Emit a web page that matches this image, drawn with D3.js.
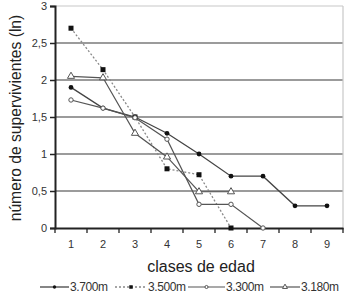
<!DOCTYPE html>
<html><head><meta charset="utf-8">
<script src="https://cdn.jsdelivr.net/npm/d3@7"></script>
<style>body{margin:0;background:#fff}svg{display:block}</style>
</head><body>
<svg id="c" width="350" height="305"></svg>
<script>
const categories = ["1","2","3","4","5","6","7","8","9"];
const yTicks = [0,0.5,1,1.5,2,2.5,3];
const yTickLabels = ["0","0,5","1","1,5","2","2,5","3"];
const seriesNames = ["3.700m","3.500m","3.300m","3.180m"];
const s3700 = [1.9,1.62,1.5,1.28,1.0,0.7,0.7,0.3,0.3];
const s3500 = [2.7,2.14,1.5,0.8,0.72,0.0];
const s3300 = [1.73,1.62,1.49,1.2,0.32,0.32,0.0];
const s3180 = [2.05,2.03,1.28,0.96,0.49,0.49];
const seriesValues = [s3700,s3500,s3300,s3180];
const xTitle = "clases de edad";
const yTitle = "número de supervivientes (ln)";

const svg = d3.select("#c");
const font = "Liberation Sans, Arial, sans-serif";
const x = d3.scaleBand().domain(categories).range([55,343]);
const y = d3.scaleLinear().domain([0,3]).range([228,6]);
const cx = c => x(c) + x.bandwidth()/2;

// grid
svg.append("g").selectAll("line").data(yTicks.filter(v=>v>0 && v<3)).join("line")
  .attr("x1",55).attr("x2",343).attr("y1",d=>y(d)).attr("y2",d=>y(d))
  .attr("stroke","#7a7a7a").attr("stroke-width",1.6);
// frame top/right
svg.append("line").attr("x1",55).attr("x2",343).attr("y1",y(3)).attr("y2",y(3)).attr("stroke","#c8c8c8").attr("stroke-width",1.2);
svg.append("line").attr("x1",343).attr("x2",343).attr("y1",y(3)).attr("y2",y(0)).attr("stroke","#c8c8c8").attr("stroke-width",1.2);

// y axis
const ya = svg.append("g").attr("transform","translate(55,0)")
  .call(d3.axisLeft(y).tickValues(yTicks).tickFormat((d,i)=>yTickLabels[i]).tickSize(5).tickPadding(3));
ya.select(".domain").attr("stroke","#222").attr("stroke-width",2);
ya.selectAll(".tick line").attr("stroke","#222").attr("stroke-width",1.5);
ya.selectAll("text").attr("font-family",font).attr("font-size",11).attr("fill","#333");

// x axis
const xa = svg.append("g").attr("transform",`translate(0,${y(0)})`)
  .call(d3.axisBottom(x).tickSize(0).tickPadding(12));
xa.select(".domain").attr("stroke","#222").attr("stroke-width",2.2);
xa.selectAll("text").attr("font-family",font).attr("font-size",11).attr("fill","#333");
svg.append("g").selectAll("line").data(categories.concat(["end"])).join("line")
  .attr("x1",(d,i)=> i<categories.length ? x(d) : x.range()[1])
  .attr("x2",(d,i)=> i<categories.length ? x(d) : x.range()[1])
  .attr("y1",y(0)).attr("y2",y(0)+5).attr("stroke","#222").attr("stroke-width",1.3);

// titles
svg.append("text").attr("x",201).attr("y",272).attr("text-anchor","middle")
  .attr("font-family",font).attr("font-size",16).attr("fill","#222").text(xTitle);
svg.append("text").attr("transform","translate(21,118) rotate(-90)").attr("text-anchor","middle")
  .attr("font-family",font).attr("font-size",15.7).attr("fill","#222").text(yTitle);

// series
const styles = [
  {stroke:"#444",dash:null,w:1.3},
  {stroke:"#888",dash:"2,2",w:1.3},
  {stroke:"#555",dash:null,w:1.2},
  {stroke:"#555",dash:null,w:1.2}
];
function marker(g,i,px,py,s){
  s = s || 1;
  if(i===0) g.append("circle").attr("cx",px).attr("cy",py).attr("r",2.4*s).attr("fill","#111");
  else if(i===1) g.append("rect").attr("x",px-2.5*s).attr("y",py-2.5*s).attr("width",5*s).attr("height",5*s).attr("fill","#111");
  else if(i===2) g.append("circle").attr("cx",px).attr("cy",py).attr("r",2.2*s).attr("fill","#fff").attr("stroke","#555").attr("stroke-width",1);
  else g.append("path").attr("d",d3.symbol(d3.symbolTriangle,22*s*s)()).attr("transform",`translate(${px},${py})`).attr("fill","#fff").attr("stroke","#555").attr("stroke-width",1);
}
const line = d3.line().x((d,i)=>cx(categories[i])).y(d=>y(d));
seriesValues.forEach((vals,i)=>{
  const g = svg.append("g");
  g.append("path").attr("d",line(vals)).attr("fill","none").attr("stroke",styles[i].stroke)
    .attr("stroke-width",styles[i].w).attr("stroke-dasharray",styles[i].dash);
  vals.forEach((v,j)=>marker(g,i,cx(categories[j]),y(v)));
});

// legend
const legX = [40,115,188,270];
const legLen = [29,32,37,30];
seriesNames.forEach((n,i)=>{
  const g = svg.append("g");
  const ly = 287;
  g.append("line").attr("x1",legX[i]).attr("x2",legX[i]+legLen[i]).attr("y1",ly).attr("y2",ly)
    .attr("stroke",styles[i].stroke).attr("stroke-width",styles[i].w).attr("stroke-dasharray",styles[i].dash);
  marker(g,i,legX[i]+legLen[i]/2,ly,0.7);
  g.append("text").attr("x",legX[i]+legLen[i]+1).attr("y",ly+4).attr("font-family",font)
    .attr("font-size",12).attr("fill","#333").attr("letter-spacing",-0.4).text(n);
});
</script>
</body></html>
